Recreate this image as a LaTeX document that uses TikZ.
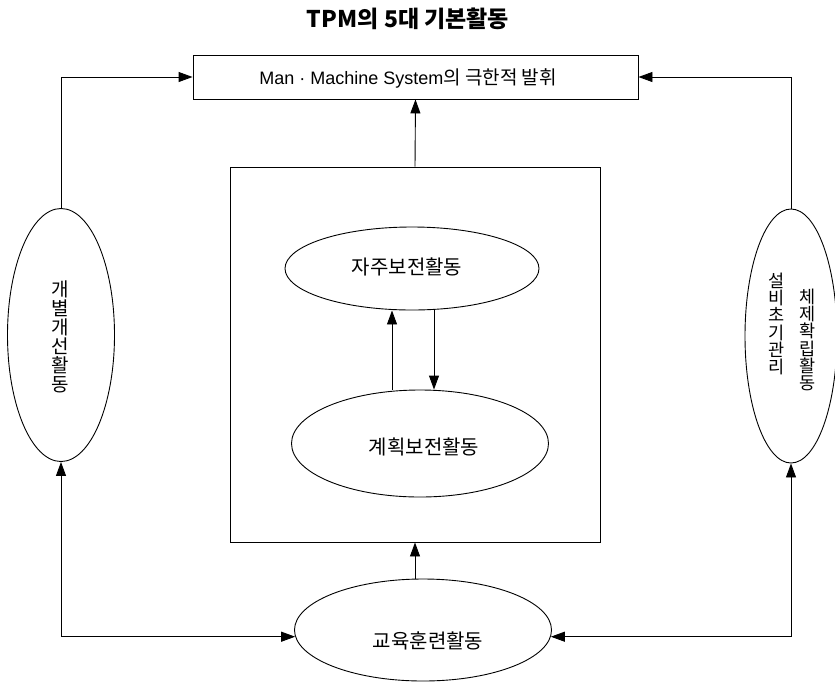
\documentclass[tikz,border=0pt]{standalone}
\usepackage{fontspec}
\setmainfont{Noto Sans CJK KR}
\newfontfamily\latfont{Liberation Sans}
\usetikzlibrary{shapes.geometric,arrows.meta}
\begin{document}
\begin{tikzpicture}[x=1pt,y=-1pt,
  line width=0.9pt,
  arr/.style={-{Triangle[length=14pt,width=10pt]}},
  darr/.style={{Triangle[length=14pt,width=10pt]}-{Triangle[length=14pt,width=10pt]}},
  box/.style={draw, inner sep=0pt},
  oval/.style={draw, ellipse, inner sep=0pt},
  lbl/.style={font=\fontsize{20}{22}\selectfont, inner sep=0pt},
  vlbl/.style={align=center, inner sep=0pt, font=\fontsize{19}{19}\selectfont},
  vlbls/.style={align=center, inner sep=0pt, font=\fontsize{17.5}{17.3}\selectfont}
]
\useasboundingbox (0,0) rectangle (835,681);
% title
\node[inner sep=0pt, font=\bfseries\fontsize{23}{25}\selectfont] (title) at (408,19) {TPM의 5대 기본활동};
% top box
\node[box, minimum width=445pt, minimum height=44pt] (top) at (415.5,77) {};
\node[inner sep=0pt, font=\fontsize{19}{21}\selectfont] (toptext) at (408,78) {{\latfont\fontsize{18}{21}\selectfont Man · Machine System}의 극한적 발휘};
% central box
\node[box, minimum width=370pt, minimum height=375pt] (mid) at (415,354.5) {};
% inner ellipses
\node[oval, minimum width=254pt, minimum height=83pt] (jaju) at (412,268.5) {};
\node[lbl] (jajutext) at (407,267) {자주보전활동};
\node[oval, minimum width=257pt, minimum height=107pt] (gye) at (420,443.5) {};
\node[lbl] (gyetext) at (424,447) {계획보전활동};
% left ellipse
\node[oval, minimum width=107pt, minimum height=253pt] (left) at (61,335) {};
\node[vlbl] (lefttext) at (60,337) {개\\별\\개\\선\\활\\동};
% right ellipse
\node[oval, minimum width=92pt, minimum height=254pt] (right) at (791,336) {};
\node[vlbls] (righttexta) at (777,324) {설\\비\\초\\기\\관\\리};
\node[vlbls] (righttextb) at (808,340) {체\\제\\확\\립\\활\\동};
% bottom ellipse
\node[oval, minimum width=257pt, minimum height=102pt] (edu) at (423,630) {};
\node[lbl] (edutext) at (428,641) {교육훈련활동};
% connectors
\coordinate (upx) at (392,0);
\coordinate (dnx) at (434,0);
\draw[arr] (left.north) |- (top.west);
\draw[arr] (right.north) |- (top.east);
\draw[arr] (mid.north) -- (top.south);
\draw[arr] (edu.north -| mid.south) -- (mid.south);
\draw[arr] (gye.north -| upx) -- (jaju.south -| upx);
\draw[arr] (jaju.south -| dnx) -- (gye.north -| dnx);
\draw[darr] (left.south) |- (edu.183);
\draw[darr] (right.south) |- (edu.357);
\end{tikzpicture}
\end{document}
